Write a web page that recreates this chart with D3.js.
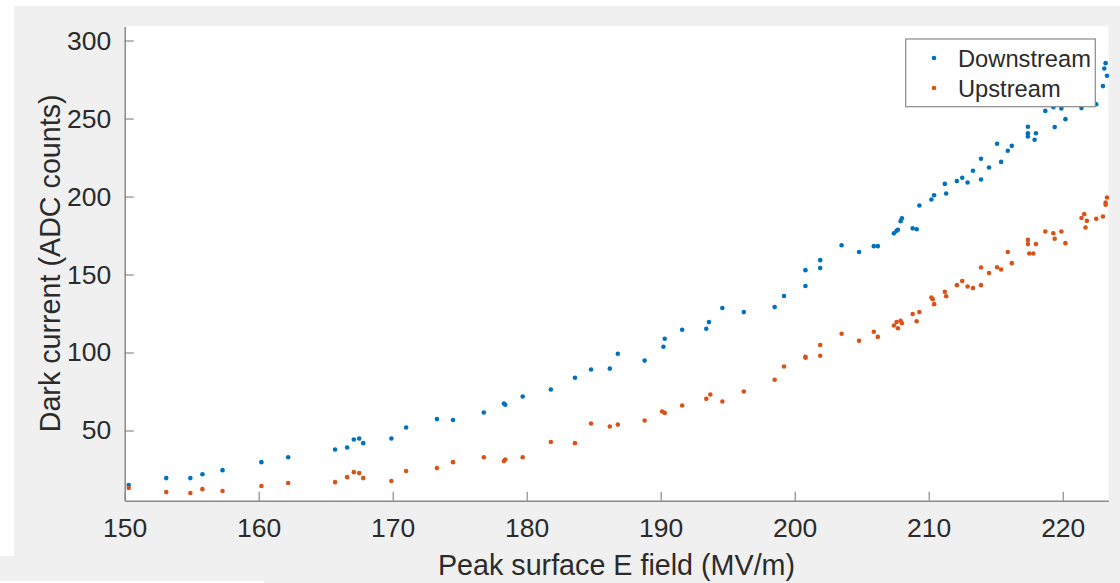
<!DOCTYPE html>
<html><head><meta charset="utf-8">
<script src="https://cdn.jsdelivr.net/npm/d3@7"></script>
<style>html,body{margin:0;padding:0;background:#fff;}svg{display:block;}</style>
</head><body>
<svg id="c" width="1120" height="583"></svg>
<script>
// Data (x: Peak surface E field MV/m, y: ADC counts)
const downstreamX = [150.3,153.1,154.9,155.8,157.3,160.2,162.2,165.7,166.6,167.1,167.5,167.8,169.9,171.0,173.3,174.5,176.8,178.3,178.4,179.7,181.8,183.6,184.8,186.2,186.8,188.8,190.2,190.3,191.6,193.4,193.6,194.6,196.2,198.5,199.2,200.8,200.8,201.9,201.9,203.5,204.8,205.9,206.2,207.4,207.6,207.7,207.9,208.0,208.8,209.1,209.3,210.2,210.4,211.3,211.2,212.1,212.5,212.9,213.3,213.9,213.9,214.5,215.1,215.4,215.9,216.2,217.4,217.4,217.4,217.9,218.0,218.7,219.3,219.4,219.9,220.2,221.4,222.5,223.0,223.1,223.2,223.3];
const downstreamY = [15.0,19.5,19.5,22.0,24.6,29.7,32.9,37.8,39.1,44.2,44.9,41.9,44.9,51.9,57.3,56.7,61.5,67.3,66.5,71.8,76.3,83.8,89.1,89.7,99.2,94.8,103.7,108.8,114.6,115.2,119.5,128.5,125.9,129.1,136.2,152.8,142.6,159.2,154.1,168.8,164.4,168.2,168.2,176.4,178.0,178.7,184.2,186.1,179.6,179.0,194.2,198.1,200.8,201.9,208.1,209.9,212.0,209.0,216.5,210.9,224.2,218.6,233.8,222.2,229.3,232.5,244.7,240.6,238.5,236.4,240.6,254.9,257.3,244.5,256.4,249.6,256.7,259.2,270.8,282.1,285.5,277.4];
const upstreamX = [150.3,153.1,154.9,155.8,157.3,160.2,162.2,165.7,166.6,167.1,167.5,167.8,169.9,171.0,173.3,174.5,176.8,178.3,178.4,179.7,181.8,183.6,184.8,186.2,186.8,188.8,190.1,190.3,191.6,193.4,193.7,194.6,196.2,198.5,199.2,200.8,200.8,201.9,201.9,203.5,204.8,205.9,206.2,207.4,207.6,207.7,207.9,208.0,208.8,209.1,209.3,210.2,210.3,210.4,211.2,211.3,212.1,212.5,212.9,213.3,213.9,213.9,214.5,215.1,215.4,215.9,216.2,217.4,217.4,217.5,217.8,218.0,218.7,219.3,219.4,219.9,220.2,221.4,221.6,221.8,221.7,222.5,223.0,223.2,223.3,223.2];
const upstreamY = [13.1,10.5,9.9,12.4,11.2,14.4,16.3,16.9,20.1,23.3,22.7,19.5,17.6,24.0,25.9,29.7,32.9,30.4,31.4,32.9,42.6,41.9,54.5,52.6,53.8,56.4,62.2,61.3,66.0,70.3,73.1,68.6,75.0,82.5,91.0,96.6,97.2,97.9,104.8,112.0,107.5,113.3,110.0,117.3,119.5,115.6,120.3,118.8,124.7,120.0,125.9,135.2,134.2,131.0,138.9,136.1,143.2,145.8,142.3,141.3,143.2,154.5,150.9,154.7,153.2,164.4,157.3,172.2,169.5,163.5,163.5,169.5,177.6,176.5,172.9,177.6,170.1,186.2,188.7,184.4,180.1,185.7,187.2,196.2,199.4,194.7];
const xTicks = [150,160,170,180,190,200,210,220];
const yTicks = [50,100,150,200,250,300];
const seriesNames = ["Downstream","Upstream"];
const seriesColors = ["#0072BD","#D95319"];
const xLabel = "Peak surface E field (MV/m)";
const yLabel = "Dark current (ADC counts)";

const svg = d3.select("#c");
const FONT = "'Liberation Sans', Arial, Helvetica, sans-serif";
// figure background
svg.append("rect").attr("x",14).attr("y",6).attr("width",1106).attr("height",577).attr("fill","#f0f0f0");
svg.append("rect").attr("x",0).attr("y",556).attr("width",14).attr("height",27).attr("fill","#f0f0f0");
svg.append("rect").attr("x",0).attr("y",580.7).attr("width",264).attr("height",3).attr("fill","#fff");

const L = 124.7, R = 1108.3, T = 26, B = 500.7;
const x = d3.scaleLinear().domain([150, 223.4]).range([L, R]);
const y = d3.scaleLinear().domain([5, 309]).range([B, 26.5]);

svg.append("rect").attr("x",L).attr("y",T).attr("width",R-L).attr("height",B-T).attr("fill","#fff");

const axisColor = "#8a8a8a", textColor = "#2b2b2b";
const gx = svg.append("g").attr("transform",`translate(0,${B})`)
  .call(d3.axisBottom(x).tickValues(xTicks).tickSizeInner(-9).tickSizeOuter(0).tickPadding(17).tickFormat(d3.format("d")));
const gy = svg.append("g").attr("transform",`translate(${L},0)`)
  .call(d3.axisLeft(y).tickValues(yTicks).tickSizeInner(-9).tickSizeOuter(0).tickPadding(13.5).tickFormat(d3.format("d")));
[gx,gy].forEach(g=>{
  g.select(".domain").attr("stroke",axisColor).attr("stroke-width",1.5);
  g.selectAll(".tick line").attr("stroke",axisColor).attr("stroke-width",1.2);
  g.selectAll(".tick text").attr("fill",textColor).style("font-family",FONT).style("font-size","26.5px");
});

svg.append("text").attr("x",(L+R)/2).attr("y",575).attr("text-anchor","middle")
  .attr("fill",textColor).style("font-family",FONT).style("font-size","28.7px").text(xLabel);
svg.append("text").attr("transform",`translate(60,${(T+B)/2}) rotate(-90)`).attr("text-anchor","middle")
  .attr("fill",textColor).style("font-family",FONT).style("font-size","28.7px").text(yLabel);

const sets = [[downstreamX,downstreamY],[upstreamX,upstreamY]];
sets.forEach((s,i)=>{
  svg.append("g").selectAll("circle").data(d3.range(s[0].length)).join("circle")
    .attr("cx",k=>x(s[0][k])).attr("cy",k=>y(s[1][k])).attr("r",2.3).attr("fill",seriesColors[i]);
});

// legend
const lg = svg.append("g");
lg.append("rect").attr("x",905.7).attr("y",39).attr("width",189.6).attr("height",67.7)
  .attr("fill","#fff").attr("stroke","#8a8a8a").attr("stroke-width",1.2);
seriesNames.forEach((n,i)=>{
  const cy = 58 + i*30;
  lg.append("circle").attr("cx",934).attr("cy",cy).attr("r",2.3).attr("fill",seriesColors[i]);
  lg.append("text").attr("x",958).attr("y",cy+8.7).attr("fill",textColor)
    .style("font-family",FONT).style("font-size","23.7px").text(n);
});
</script>
</body></html>
